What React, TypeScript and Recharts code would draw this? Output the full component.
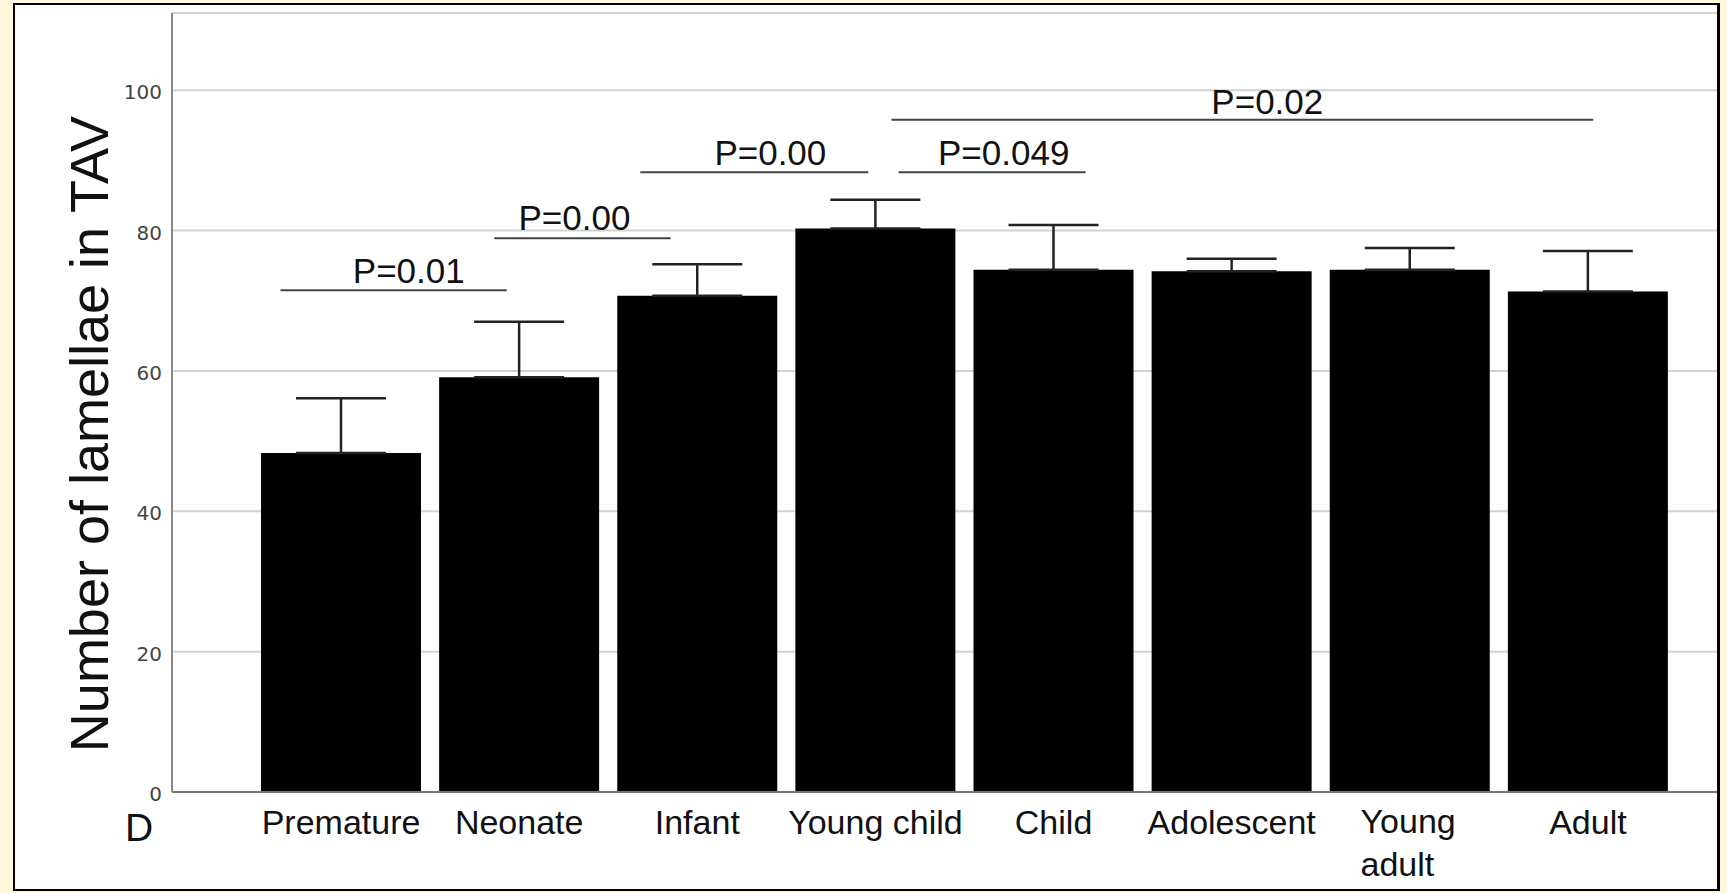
import React from 'react';
import { BarChart, Bar, XAxis, YAxis, CartesianGrid, ErrorBar, ReferenceLine, ReferenceDot } from 'recharts';

const groups = ['Premature', 'Neonate', 'Infant', 'Young child', 'Child', 'Adolescent', 'Young\nadult', 'Adult'];
const meanLamellae = [48.3, 59.1, 70.7, 80.3, 74.4, 74.2, 74.4, 71.3];
const upperError = [7.8, 7.9, 4.5, 4.1, 6.4, 1.8, 3.1, 5.8];
const yTicks = [0, 20, 40, 60, 80, 100];

// significance brackets, x in group units (0 = first bar centre), y in lamellae
const brackets = [
  { p: 'P=0.01', x1: -0.34, x2: 0.93, y: 71.5, tx: 0.38, ty: 74.3 },
  { p: 'P=0.00', x1: 0.86, x2: 1.85, y: 78.9, tx: 1.31, ty: 81.9 },
  { p: 'P=0.00', x1: 1.68, x2: 2.96, y: 88.3, tx: 2.41, ty: 91.1 },
  { p: 'P=0.049', x1: 3.13, x2: 4.18, y: 88.3, tx: 3.72, ty: 91.1 },
  { p: 'P=0.02', x1: 3.09, x2: 7.03, y: 95.8, tx: 5.2, ty: 98.4 },
];

const W = 1727;
const H = 893;
const plotLeft = 172;
const plotTop = 13;
const plotRight = 1717;
const plotBottom = 792;
const padL = 80;
const padR = 40;
const band = (plotRight - plotLeft - padL - padR) / groups.length;
const numDomain = [-0.5 - padL / band, groups.length - 0.5 + padR / band];

const data = groups.map((name, i) => ({
  name,
  idx: i,
  mean: meanLamellae[i],
  err: [0, upperError[i]],
}));

const sans = '"Liberation Sans", Arial, sans-serif';

const GroupTick = (props: any) => {
  const { x, y, payload } = props;
  const lines = String(payload.value).split('\n');
  const fs = 34;
  if (lines.length === 1) {
    return (
      <text x={x} y={y + 42} textAnchor="middle" fontSize={fs} fontFamily={sans} fill="#111">
        {lines[0]}
      </text>
    );
  }
  // multi-line labels are left aligned under the bar
  const left = x - fs * 1.45;
  return (
    <text x={left} y={y + 41} textAnchor="start" fontSize={fs} fontFamily={sans} fill="#111">
      {lines.map((l, i) => (
        <tspan key={i} x={left} dy={i === 0 ? 0 : 43}>{l}</tspan>
      ))}
    </text>
  );
};

export default function App() {
  return (
    <div style={{ position: 'fixed', left: 0, top: 0, width: W, height: H, background: '#fff8dc' }}>
      <div
        style={{
          position: 'absolute',
          left: 13,
          top: 3,
          width: 1707,
          height: 888,
          boxSizing: 'border-box',
          border: '2px solid #000',
          borderRightWidth: 3,
          background: '#fff',
        }}
      />
      <div style={{ position: 'absolute', left: 0, top: 0 }}>
        <BarChart
          width={W}
          height={H}
          data={data}
          margin={{ top: plotTop, right: W - plotRight, bottom: 0, left: 0 }}
        >
          <CartesianGrid vertical={false} stroke="#d2d2d2" strokeWidth={2} />
          <XAxis
            dataKey="name"
            height={H - plotBottom}
            padding={{ left: padL, right: padR }}
            stroke="#777"
            strokeWidth={2}
            tickLine={false}
            tickSize={0}
            tickMargin={0}
            interval={0}
            tick={<GroupTick />}
          />
          <XAxis xAxisId="n" type="number" dataKey="idx" domain={numDomain} allowDataOverflow hide />
          <YAxis
            width={plotLeft}
            domain={[0, 111]}
            ticks={yTicks}
            allowDataOverflow
            stroke="#888"
            strokeWidth={2}
            tickLine={false}
            tickSize={0}
            tickMargin={10}
            tick={{ fontSize: 20, fontFamily: '"DejaVu Sans", sans-serif', fill: '#444', dy: 2 }}
          />
          <Bar dataKey="mean" fill="#000" barSize={160} isAnimationActive={false}>
            <ErrorBar dataKey="err" direction="y" width={45} stroke="#222" strokeWidth={2.5} isAnimationActive={false} />
          </Bar>
          {brackets.map((b, i) => (
            <ReferenceLine
              key={`l${i}`}
              xAxisId="n"
              segment={[{ x: b.x1, y: b.y }, { x: b.x2, y: b.y }]}
              stroke="#444"
              strokeWidth={2}
              ifOverflow="visible"
            />
          ))}
          {brackets.map((b, i) => (
            <ReferenceDot
              key={`t${i}`}
              xAxisId="n"
              x={b.tx}
              y={b.ty}
              r={0}
              fill="none"
              stroke="none"
              ifOverflow="visible"
              label={{ value: b.p, position: 'center', fontSize: 35, fontFamily: sans, fill: '#111' }}
            />
          ))}
        </BarChart>
      </div>
      <svg width={W} height={H} style={{ position: 'absolute', left: 0, top: 0, pointerEvents: 'none' }}>
        <text
          transform="translate(108, 434) rotate(-90)"
          textAnchor="middle"
          fontSize={54}
          fontFamily={sans}
          fill="#111"
        >
          Number of lamellae in TAV
        </text>
        <text x={125} y={841} fontSize={39} fontFamily={sans} fill="#111">
          D
        </text>
      </svg>
    </div>
  );
}
